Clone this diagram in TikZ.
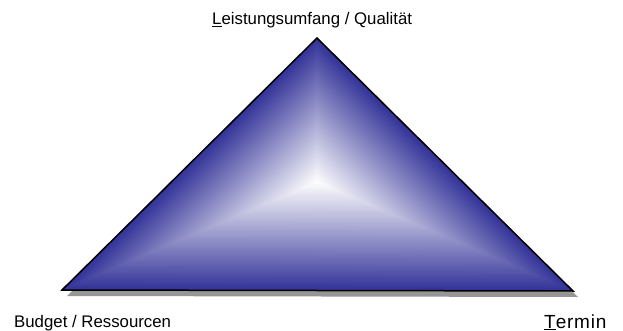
\documentclass[tikz,border=0pt]{standalone}
\usepackage{fontspec}
\setmainfont{Liberation Sans}
\usetikzlibrary{calc}
\definecolor{triblue}{RGB}{51,51,153}
\definecolor{shadowgray}{RGB}{150,150,150}

\begin{document}
\begin{tikzpicture}[x=1pt, y=-1pt,
    cornerlabel/.style={font=\fontsize{16.8}{20}\selectfont, inner sep=0pt}]
    \useasboundingbox (0,0) rectangle (623,331);
    \coordinate (A) at (317,38);
    \coordinate (B) at (62,290);
    \coordinate (C) at (573,291);
    \coordinate (M) at (317,182);
    % shadow
    \fill[shadowgray] ($(A)+(5,6)$) -- ($(B)+(5,6)$) -- ($(C)+(5,6)$) -- cycle;
    % shading from the edges to the centre
    \foreach \i in {0,...,90} {
      \pgfmathsetmacro{\t}{1-\i/90}
      \pgfmathsetmacro{\c}{100*\t}
      \fill[triblue!\c!white] ($(M)!\t!(A)$) -- ($(M)!\t!(B)$) -- ($(M)!\t!(C)$) -- cycle;
    }
    \draw[line width=1.5pt, line join=miter] (A) -- (B) -- (C) -- cycle;
    % labels
    \node[cornerlabel, anchor=base west] (qual) at (212,25) {\underline{L}eistungsumfang / Qualität};
    \node[cornerlabel, anchor=base west] (budget) at (14,327.5) {Budget / Ressourcen};
    \node[cornerlabel, anchor=base west, font=\fontsize{19}{22}\selectfont] (termin) at (544,328) {\addfontfeature{LetterSpace=4}\underline{T}ermin};
\end{tikzpicture}
\end{document}
